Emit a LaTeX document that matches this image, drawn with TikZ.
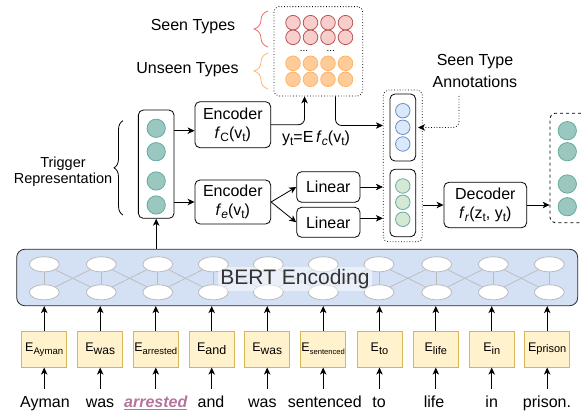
\documentclass[tikz,border=0pt]{standalone}
\usepackage{fontspec}
\setmainfont{Liberation Sans}
\usetikzlibrary{arrows.meta,decorations.pathreplacing,calc,backgrounds,shapes.geometric}
\definecolor{redf}{HTML}{F8CECC}\definecolor{redd}{HTML}{B85450}
\definecolor{orf}{HTML}{FFCC99}\definecolor{ord}{HTML}{FFB366}
\definecolor{bluf}{HTML}{DAE8FC}\definecolor{blud}{HTML}{6C8EBF}
\definecolor{grf}{HTML}{D5E8D4}\definecolor{grd}{HTML}{67AB9F}
\definecolor{tealf}{HTML}{9AC7BF}\definecolor{teald}{HTML}{67AB9F}
\definecolor{bertf}{HTML}{D4E1F5}
\definecolor{embf}{HTML}{FFF2CC}\definecolor{embd}{HTML}{D6B656}
\definecolor{braceR}{HTML}{EA6B66}\definecolor{braceO}{HTML}{FFB570}
\definecolor{purp}{HTML}{B5739D}
\definecolor{dgray}{HTML}{333333}
\newcommand{\fs}[1]{\fontsize{#1}{#1}\selectfont}
\newcommand{\lo}[2]{\raisebox{-3pt}{\fs{#1}#2}}
\begin{document}
\begin{tikzpicture}[x=1pt,y=-1pt,
  every node/.style={font=\fs{16}},
  box/.style={draw, rounded corners=5pt, line width=0.8pt, align=center, inner sep=0pt},
  arr/.style={line width=0.8pt, -{Stealth[length=7pt,width=6.5pt,inset=2pt]}},
  cir/.style={circle, inner sep=0pt, line width=0.8pt},
  rc/.style={cir, minimum size=14.6pt, fill=redf, draw=redd},
  oc/.style={cir, minimum size=14.6pt, fill=orf, draw=ord},
  bc/.style={cir, minimum size=14.5pt, fill=bluf, draw=blud},
  gc/.style={cir, minimum size=14.5pt, fill=grf, draw=grd},
  tc/.style={cir, minimum size=18.3pt, fill=tealf, draw=teald},
  ell/.style={ellipse, minimum width=30pt, minimum height=15pt, inner sep=0pt, draw=black!27, fill=white, line width=0.8pt},
  emb/.style={draw=embd, fill=embf, line width=0.8pt, minimum width=45pt, minimum height=36pt, inner sep=0pt, font=\fs{12.5}},
  word/.style={inner sep=1pt, outer sep=6pt, text height=12pt, text depth=4pt},
  brc/.style={decorate, line width=0.8pt},
]
\useasboundingbox (0,0) rectangle (582,414);

% type matrix
\node[box, dotted, minimum width=88.7pt, minimum height=89.3pt] (types) at (318.3,51.3) {};
\foreach \x [count=\i] in {293,310.5,328,345.5}{
  \node[rc] (ra\i) at (\x,22.7) {};
  \node[rc] (rb\i) at (\x,37.3) {};
  \node[oc] (oa\i) at (\x,63.3) {};
  \node[oc] (ob\i) at (\x,79.3) {};
}
\node[anchor=base, font=\fs{10}, inner sep=0pt] (dots1) at (304,52) {...};
\node[anchor=base, font=\fs{10}, inner sep=0pt] (dots2) at (330.7,52) {...};

\node (seenlab) at (193,27) {Seen Types};
\node (unseenlab) at (187.5,70) {Unseen Types};
\draw[brc, braceR, decoration={brace, amplitude=14pt}] (268,47) -- (268,11);
\draw[brc, braceO, decoration={brace, amplitude=14pt}] (268,89) -- (268,53);

% trigger
\node[box, minimum width=35.7pt, minimum height=108.3pt] (trig) at (156.2,164.2) {};
\foreach \y [count=\i] in {128.3,151.7,181,205}{ \node[tc] (tr\i) at (156.2,\y) {}; }
\draw[brc, black, decoration={brace, amplitude=9pt}] (123,215) -- (123,120.7);
\node[align=center, font=\fs{14.5}, inner sep=0pt] (triglab) at (63,172) {Trigger\\[2pt]Representation};

% encoders
\node[box, minimum width=75.7pt, minimum height=46pt] (enc1) at (232.8,124.7) {Encoder\\[3pt]\textit{f}\lo{12}{C}(v\lo{12}{t})};
\node[box, minimum width=75.7pt, minimum height=44pt] (enc2) at (232.8,202) {Encoder\\[3pt]\textit{f}\lo{12}{\textit{e}}(v\lo{12}{t})};
\node (ylab) at (316,138) {y\lo{12}{t}=E\,\textit{f}\lo{12}{\textit{c}}(v\lo{12}{t})};

% linears
\node[box, minimum width=63.3pt, minimum height=30.6pt] (lin1) at (328.3,187) {Linear};
\node[box, minimum width=63.3pt, minimum height=30pt] (lin2) at (328.3,222.3) {Linear};

% concat box
\node[box, dotted, minimum width=39pt, minimum height=151.7pt] (outer) at (402.8,165.9) {};
\node[box, minimum width=25.7pt, minimum height=67pt] (blue) at (402.8,127.5) {};
\node[box, minimum width=25.7pt, minimum height=67.4pt] (green) at (402.8,203) {};
\foreach \y [count=\i] in {110.7,127.3,144}{ \node[bc] (bl\i) at (402.8,\y) {}; }
\foreach \y [count=\i] in {186,202.3,219.3}{ \node[gc] (gr\i) at (402.8,\y) {}; }

\node[align=center, inner sep=0pt] (annlab) at (475,71) {Seen Type\\[6pt]Annotations};
\coordinate (ann) at (459,96);

% decoder and output
\node[box, minimum width=82.7pt, minimum height=45.4pt] (dec) at (485.3,205) {Decoder\\[3pt]\textit{f}\lo{12}{\textit{r}}(z\lo{12}{t}, y\lo{12}{t})};
\node[box, dashed, minimum width=60pt, minimum height=109.4pt] (outb) at (580,168) {};
\foreach \y [count=\i] in {130.7,151.7,184,206.7}{ \node[tc] (ot\i) at (567.3,\y) {}; }

% BERT
\foreach \x [count=\i] in {44.3,101.3,157.8,213.3,268.3,323.3,379,436.7,493.3,549.3}{
  \node[ell] (bt\i) at (\x,264.3) {};
  \node[ell] (bb\i) at (\x,292.3) {};
}
\begin{scope}[on background layer]
  \node[draw=black!85, fill=bertf, rounded corners=8pt, line width=0.8pt, minimum width=561pt, minimum height=56.4pt, inner sep=0pt] (bert) at (297.2,277.5) {};
  \foreach \i in {1,...,10}{ \draw[black!27, line width=0.7pt] (bt\i) -- (bb\i); }
  \foreach \i [evaluate=\i as \j using int(\i+1)] in {1,...,9}{
    \draw[black!27, line width=0.7pt] (bt\i) -- (bb\j);
    \draw[black!27, line width=0.7pt] (bb\i) -- (bt\j);
  }
\end{scope}
\node[fill=white, fill opacity=0.5, text opacity=1, text=dgray, font=\fs{21}, minimum width=154pt, minimum height=24pt, inner sep=0pt] (bertlab) at (295,279) {BERT Encoding};

% embeddings and words
\foreach \x/\wx/\lab/\w [count=\i] in {
  44.2/45/{E\lo{9.6}{Ayman}}/{Ayman},
  100.2/100/{E\lo{12}{was}}/{was},
  155.8/155.8/{E\lo{9.4}{arrested}}/{\textcolor{purp}{\textbf{\textit{\underline{arrested}}}}},
  211.7/211/{E\lo{12.5}{and}}/{and},
  267.2/262.3/{E\lo{12}{was}}/{was},
  323.2/324.8/{E\lo{7.6}{sentenced}}/{sentenced},
  379.5/379/{E\lo{11}{to}}/{to},
  435.8/434/{E\lo{11}{life}}/{life},
  491.7/491.7/{E\lo{11}{in}}/{in},
  547.2/547/{E\raisebox{-1pt}{\fs{11}prison}}/{prison.}}{
  \node[emb] (e\i) at (\x,349.2) {\lab};
  \node[word] (w\i) at (\wx,404) {\w};
  \draw[arr] (e\i.south |- w\i.north) -- (e\i.south);
  \draw[arr] (e\i.north) -- (e\i.north |- bert.south);
}

% connectors
\draw[arr] (trig.south |- bert.north) -- (trig.south);
\draw[arr] ($(trig.east)+(0,-33.5)$) -- ($(enc1.west)+(0,6)$);
\draw[arr] (trig.east |- enc2.west) -- (enc2.west);
\draw[arr, rounded corners=6pt] (enc1.east) -| ($(types.south west)+(31,0)$);
\draw[arr, rounded corners=6pt] ($(types.south west)+(62,0)$) |- ($(outer.west |- blue.west)+(0,-2)$);
\draw[arr, dotted, rounded corners=6pt] (ann) |- ($(blue.east)+(2,0)$);
\draw[arr] (enc2.east) -- (lin1.west);
\draw[arr] (enc2.east) -- (lin2.west);
\draw[arr] (lin1.east) -- (outer.west |- lin1.east);
\draw[arr] ($(lin2.east)+(0,-4)$) -- ($(outer.west |- lin2.east)+(0,-4)$);
\draw[arr] (outer.east |- dec.west) -- (dec.west);
\draw[arr] (dec.east) -- (outb.west |- dec.east);
\end{tikzpicture}
\end{document}
